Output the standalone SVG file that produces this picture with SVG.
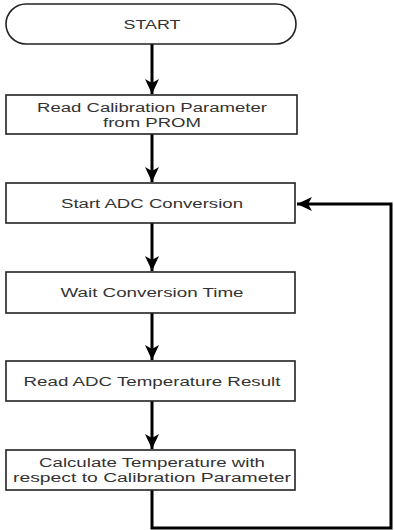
<svg xmlns="http://www.w3.org/2000/svg" width="394" height="530" viewBox="0 0 394 530">
<style>
.box{fill:#fff;stroke:#222;stroke-width:1.6}
.t{font-family:"Liberation Sans",Arial,sans-serif;font-size:12.5px;fill:#333;text-anchor:middle}
.c{fill:none;stroke:#000;stroke-width:3}
</style>
<defs>
<marker id="ah" markerUnits="userSpaceOnUse" markerWidth="16" markerHeight="16" viewBox="0 0 16 16" refX="15" refY="8" orient="auto">
<path d="M0,1 L15,8 L0,15 L4,8 Z" fill="#000"/>
</marker>
</defs>
<rect width="394" height="530" fill="#fff"/>
<g id="connectors">
<line class="c" x1="152" y1="44" x2="152" y2="94" marker-end="url(#ah)"/>
<line class="c" x1="152" y1="134" x2="152" y2="182" marker-end="url(#ah)"/>
<line class="c" x1="152" y1="223" x2="152" y2="271" marker-end="url(#ah)"/>
<line class="c" x1="152" y1="313" x2="152" y2="360" marker-end="url(#ah)"/>
<line class="c" x1="152" y1="401" x2="152" y2="449" marker-end="url(#ah)"/>
<polyline class="c" points="152,490 152,528 391,528 391,204 297,204" marker-end="url(#ah)"/>
</g>
<g id="start">
<rect class="box" x="6" y="4" width="290" height="40" rx="20" ry="20"/>
<text class="t" x="152" y="29" textLength="57" lengthAdjust="spacingAndGlyphs">START</text>
</g>
<g id="read-calib">
<rect class="box" x="6" y="95" width="291" height="39"/>
<text class="t" x="152" y="112" textLength="230" lengthAdjust="spacingAndGlyphs">Read Calibration Parameter</text>
<text class="t" x="152" y="127" textLength="98" lengthAdjust="spacingAndGlyphs">from PROM</text>
</g>
<g id="start-adc">
<rect class="box" x="6" y="183" width="289" height="40"/>
<text class="t" x="152" y="208" textLength="182" lengthAdjust="spacingAndGlyphs">Start ADC Conversion</text>
</g>
<g id="wait">
<rect class="box" x="6" y="272" width="289" height="41"/>
<text class="t" x="152" y="297" textLength="183" lengthAdjust="spacingAndGlyphs">Wait Conversion Time</text>
</g>
<g id="read-adc">
<rect class="box" x="6" y="361" width="289" height="40"/>
<text class="t" x="152" y="386" textLength="257" lengthAdjust="spacingAndGlyphs">Read ADC Temperature Result</text>
</g>
<g id="calc">
<rect class="box" x="6" y="450" width="289" height="40"/>
<text class="t" x="152" y="467" textLength="226" lengthAdjust="spacingAndGlyphs">Calculate Temperature with</text>
<text class="t" x="152" y="482" textLength="278" lengthAdjust="spacingAndGlyphs">respect to Calibration Parameter</text>
</g>
</svg>
